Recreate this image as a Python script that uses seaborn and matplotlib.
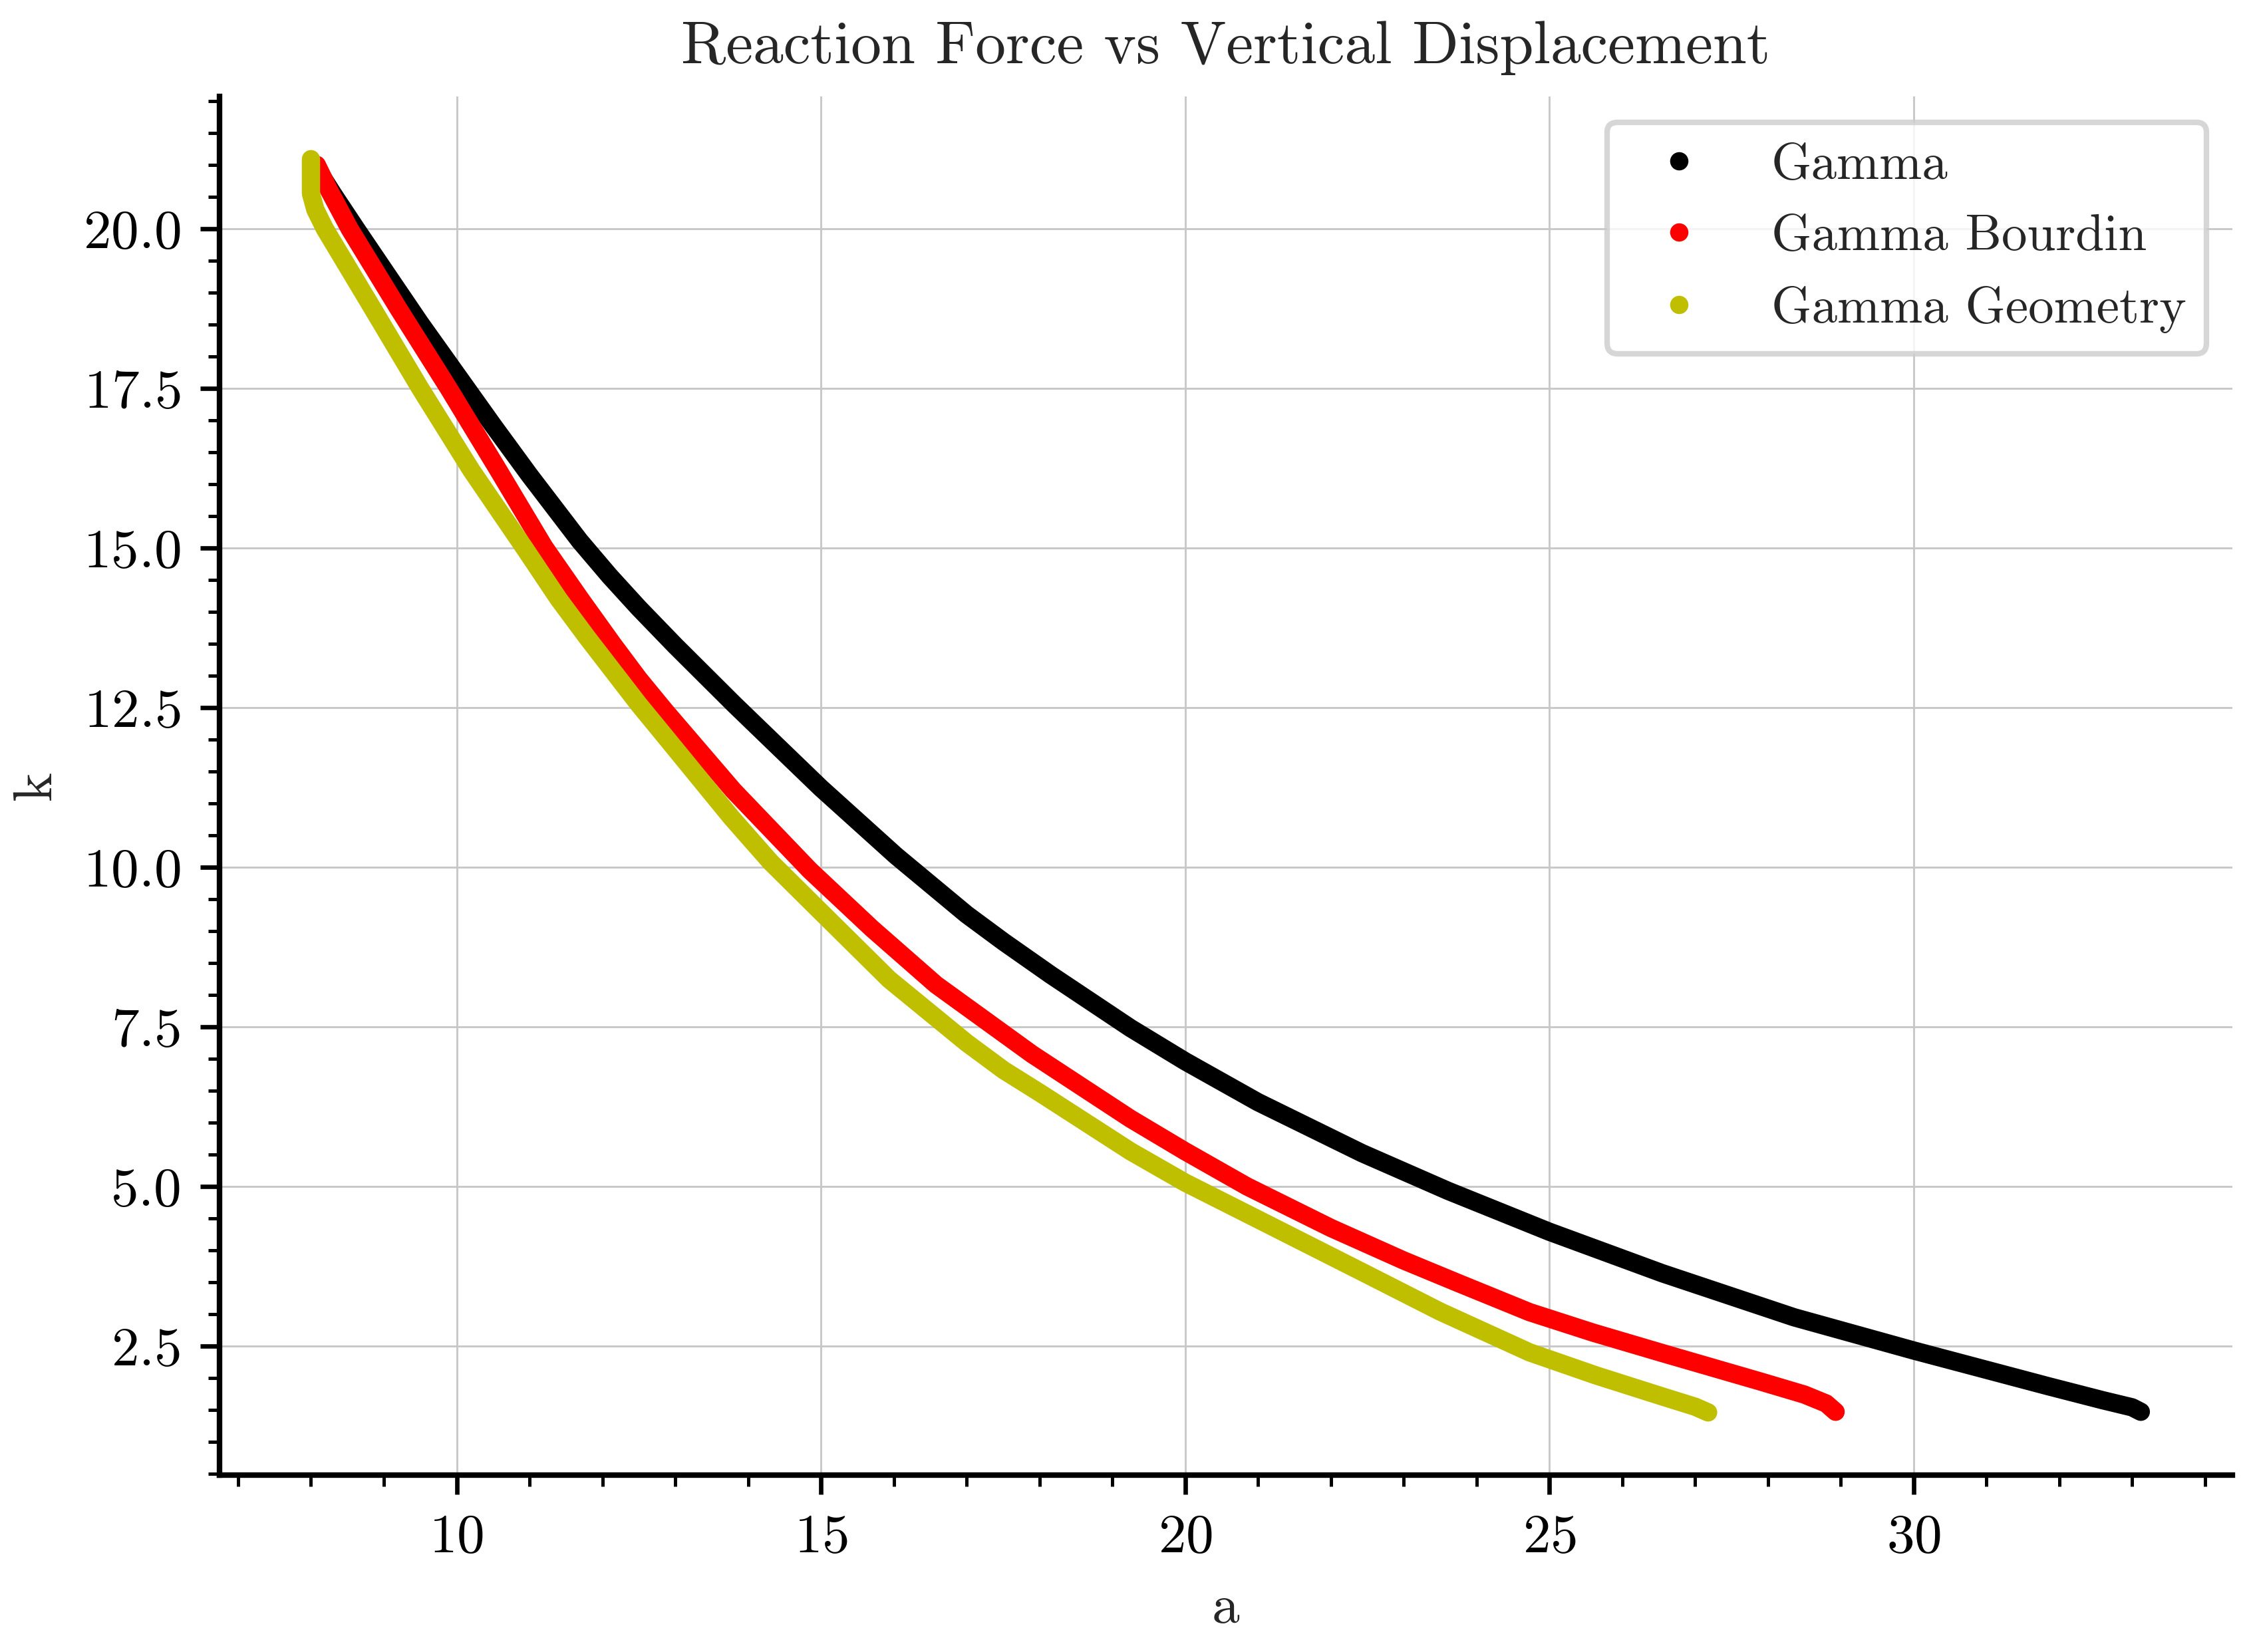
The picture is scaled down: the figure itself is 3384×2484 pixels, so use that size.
import matplotlib
matplotlib.use("Agg")
import matplotlib.pyplot as plt
from matplotlib.lines import Line2D
from matplotlib.ticker import MultipleLocator
import seaborn as sns
import pandas as pd

# ---- data ----
gamma_a = [8.05, 8.3, 8.62, 9.0, 9.5, 10.0, 10.5, 11.0, 11.69, 12.1, 12.5, 13.0, 13.81, 14.4, 15.0,
           16.03, 17.0, 17.51, 18.16, 19.25, 20.0, 21.0, 22.43, 23.61, 25.0, 26.55, 28.36, 30.0,
           31.85, 32.6, 33.0, 33.12]
gamma_k = [21.0, 20.55, 20.0, 19.36, 18.52, 17.72, 16.92, 16.14, 15.11, 14.56, 14.06, 13.47, 12.55,
           11.9, 11.24, 10.18, 9.26, 8.83, 8.31, 7.48, 6.96, 6.32, 5.52, 4.93, 4.29, 3.64, 2.95, 2.43,
           1.87, 1.65, 1.54, 1.47]

bourdin_a = [8.08, 8.25, 8.53, 9.2, 9.89, 10.55, 11.2, 11.7, 12.14, 12.5, 12.86, 13.8, 14.85, 15.7,
             16.58, 17.9, 19.25, 20.0, 20.85, 22.0, 23.0, 23.72, 24.73, 25.6, 26.55, 27.91, 28.5,
             28.8, 28.93]
bourdin_k = [21.0, 20.6, 20.0, 18.75, 17.5, 16.26, 15.02, 14.2, 13.5, 12.95, 12.45, 11.2, 9.95, 9.04,
             8.16, 7.07, 6.06, 5.55, 5.0, 4.35, 3.84, 3.50, 3.03, 2.71, 2.39, 1.94, 1.74, 1.60, 1.47]

geometry_a = [8.0, 8.0, 8.06, 8.19, 8.8, 9.5, 10.2, 10.93, 11.4, 11.79, 12.5, 12.86, 13.77, 14.31,
              15.0, 15.94, 17.0, 17.51, 18.0, 19.25, 20.0, 21.06, 22.43, 23.5, 24.73, 25.64, 26.55,
              27.0, 27.18]
geometry_k = [21.09, 20.55, 20.3, 20.0, 18.84, 17.5, 16.22, 15.0, 14.2, 13.6, 12.55, 12.05, 10.78,
              10.08, 9.3, 8.24, 7.25, 6.82, 6.47, 5.55, 5.06, 4.45, 3.66, 3.04, 2.40, 2.04, 1.71,
              1.55, 1.46]

labels = ["Gamma", "Gamma Bourdin", "Gamma Geometry"]
colors = ["#000000", "#ff0000", "#bfbf00"]

# ---- style ----
sns.set_style("ticks")
plt.rcParams.update({
    "font.family": ["cmr10", "DejaVu Serif"],
    "mathtext.fontset": "cm",
    "axes.formatter.use_mathtext": True,
    "axes.unicode_minus": False,
    "font.size": 10,
    "axes.linewidth": 1.0,
    "xtick.direction": "out",
    "ytick.direction": "out",
    "xtick.major.size": 3.5,
    "ytick.major.size": 3.5,
    "xtick.minor.size": 2.0,
    "ytick.minor.size": 2.0,
    "xtick.major.width": 0.8,
    "ytick.major.width": 0.8,
    "xtick.minor.width": 0.6,
    "ytick.minor.width": 0.6,
    "xtick.color": "black",
    "ytick.color": "black",
    "axes.edgecolor": "black",
})

fig = plt.figure(figsize=(5.64, 4.14), dpi=600)
ax = fig.add_axes([0.0975, 0.1071, 0.9917 - 0.0975, 0.9416 - 0.1071])

series = [(gamma_a, gamma_k), (bourdin_a, bourdin_k), (geometry_a, geometry_k)]
for (xa, yk), lab, col in zip(series, labels, colors):
    df = pd.DataFrame({"a": xa, "k": yk})
    sns.lineplot(data=df, x="a", y="k", ax=ax, color=col, linewidth=3.3,
                 estimator=None, sort=False, solid_capstyle="round",
                 solid_joinstyle="round", zorder=3)

ax.xaxis.set_major_locator(MultipleLocator(5))
ax.xaxis.set_minor_locator(MultipleLocator(1))
ax.yaxis.set_major_locator(MultipleLocator(2.5))
ax.yaxis.set_minor_locator(MultipleLocator(0.5))
ax.grid(True, which="major", color="#c8c8c8", linewidth=0.35, zorder=0)
ax.set_axisbelow(True)

sns.despine(ax=ax)

ax.set_xlabel("a", fontsize=10)
ax.set_ylabel("k", fontsize=10)
ax.set_title("Reaction Force vs Vertical Displacement", fontsize=11)

handles = [Line2D([], [], marker="o", linestyle="none", markersize=3.3,
                  markerfacecolor=c, markeredgewidth=0, color=c) for c in colors]
ax.legend(handles, labels, loc="upper right", fontsize=9.25, frameon=True,
          framealpha=0.8, edgecolor="0.8", fancybox=True)

fig.savefig("out.png", dpi=600)
